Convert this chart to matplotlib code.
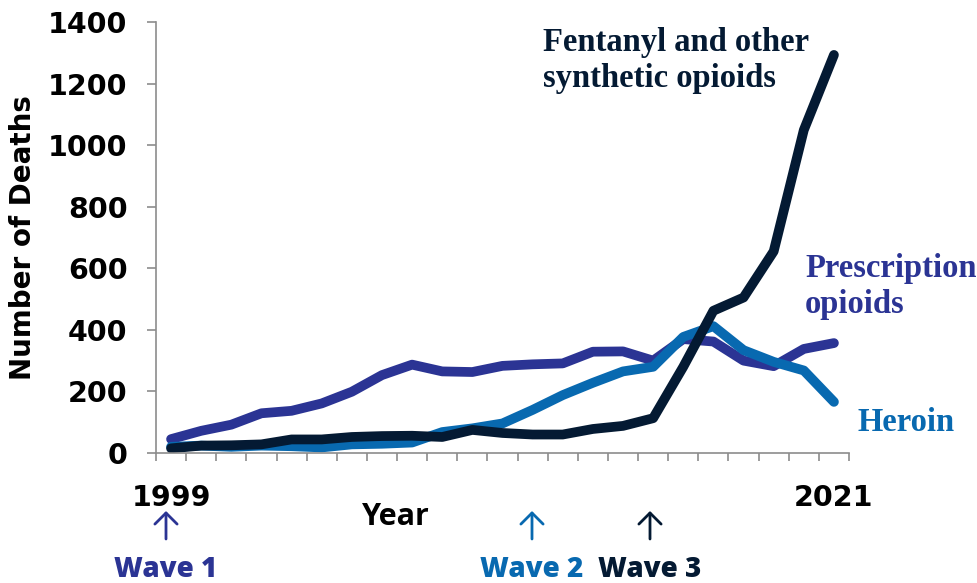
import numpy as np
import matplotlib.pyplot as plt
from matplotlib.patches import FancyArrowPatch

years = list(range(1999, 2022))
prescription = [45, 72, 92, 129, 137, 161, 199, 253, 287, 265, 263, 283, 288, 291, 329, 330, 300, 370, 362, 300, 282, 338, 357]
heroin = [20, 24, 20, 24, 22, 18, 28, 30, 34, 68, 80, 96, 140, 188, 228, 265, 280, 377, 412, 334, 296, 268, 166]
fentanyl = [15, 24, 25, 28, 44, 44, 52, 55, 56, 52, 75, 65, 60, 60, 78, 88, 113, 280, 462, 505, 655, 1049, 1293]

c_rx = '#2b3494'
c_her = '#0869b0'
c_fen = '#041a33'

fig = plt.figure(figsize=(9.78, 5.83), dpi=100)
ax = fig.add_axes([0.1595, 0.223, 0.7086, 0.7393])

x = np.arange(len(years))
lw = 7
ax.plot(x, prescription, color=c_rx, lw=lw, solid_capstyle='round')
ax.plot(x, heroin, color=c_her, lw=lw, solid_capstyle='round')
ax.plot(x, fentanyl, color=c_fen, lw=lw, solid_capstyle='round')

ax.set_xlim(-0.5, len(years) - 0.5)
ax.set_ylim(0, 1400)
ax.set_yticks(range(0, 1401, 200))
ax.set_xticks([0, len(years) - 1])
ax.set_xticklabels([str(years[0]), str(years[-1])])
ax.set_xticks(np.arange(-0.5, len(years)), minor=True)

for s in ['top', 'right']:
    ax.spines[s].set_visible(False)
for s in ['left', 'bottom']:
    ax.spines[s].set_color('#8c8c8c')
    ax.spines[s].set_linewidth(1.2)

ax.tick_params(axis='y', length=6.5, width=1.2, color='#8c8c8c', pad=14)
ax.tick_params(axis='x', which='major', length=0, pad=22)
ax.tick_params(axis='x', which='minor', length=5.5, width=1.2, color='#8c8c8c')
for lab in ax.get_yticklabels() + ax.get_xticklabels():
    lab.set_fontsize(20.5)
    lab.set_fontweight('bold')

ax.set_ylabel('Number of Deaths', fontsize=20, fontweight='bold', labelpad=8)

serif = 'Liberation Serif'
fig.text(543 / 978, 1 - 27 / 583, 'Fentanyl and other\nsynthetic opioids', color=c_fen,
         fontsize=23.5, fontweight='bold', family=serif, va='top', ha='left')
fig.text(805 / 978, 1 - 253 / 583, 'Prescription\nopioids', color=c_rx,
         fontsize=23.5, fontweight='bold', family=serif, va='top', ha='left')
fig.text(858 / 978, 1 - 407 / 583, 'Heroin', color=c_her,
         fontsize=23.5, fontweight='bold', family=serif, va='top', ha='left')

sans2 = 'Open Sans'
fig.text(396 / 978, 1 - 525 / 583, 'Year', fontsize=22, fontweight='bold',
         family=sans2, ha='center', va='baseline')

waves = [('Wave 1', 166, c_rx), ('Wave 2', 532, c_her), ('Wave 3', 650, c_fen)]
for label, px, col in waves:
    xf = px / 978
    fig.patches.append(FancyArrowPatch(
        (xf, 1 - 539 / 583), (xf, 1 - 511 / 583), transform=fig.transFigure,
        arrowstyle='->,head_length=8,head_width=8', color=col, lw=2.0,
        shrinkA=0, shrinkB=0))
    fig.text(xf, 1 - 577 / 583, label, color=col, fontsize=20, fontweight='heavy',
             family=sans2, ha='center', va='baseline')

fig.savefig('out.png', dpi=100)
